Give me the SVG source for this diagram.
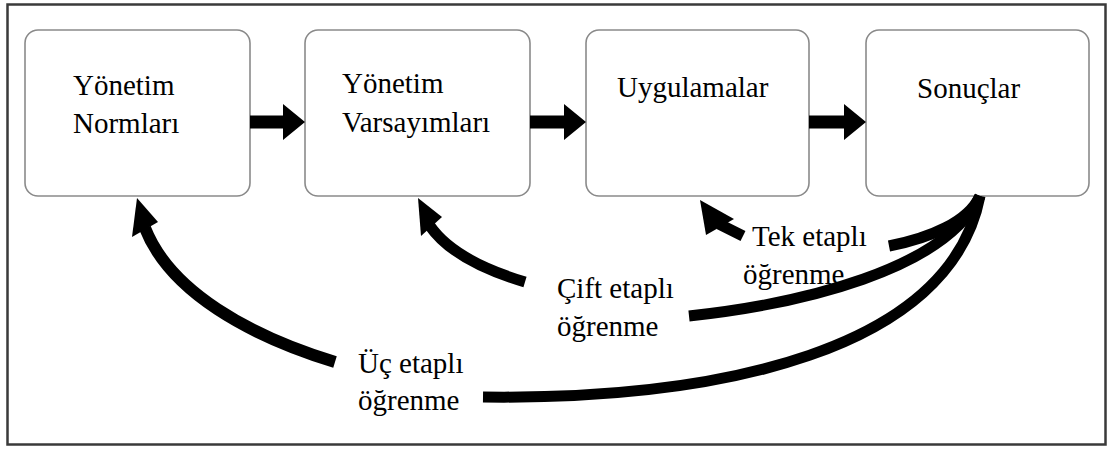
<svg xmlns="http://www.w3.org/2000/svg" width="1110" height="450" viewBox="0 0 1110 450">
<style>
.box{fill:#fff;stroke:#8a8a8a;stroke-width:1.6}
.t{font-family:"Liberation Serif","Times New Roman",serif;font-size:29px;fill:#000}
.c{fill:none;stroke:#000;stroke-linecap:butt}
.h{fill:#000}
</style>
<rect x="0" y="0" width="1110" height="450" fill="#fff"/>
<rect x="7.5" y="4.5" width="1098" height="440" fill="none" stroke="#3a3a3a" stroke-width="2.5"/>
<g id="n1"><rect class="box" x="25" y="30" width="225" height="166" rx="13"/><text class="t" x="73" y="95">Yönetim</text><text class="t" x="73" y="133">Normları</text></g>
<g id="n2"><rect class="box" x="305" y="30" width="225" height="166" rx="13"/><text class="t" x="342" y="93">Yönetim</text><text class="t" x="342" y="132">Varsayımları</text></g>
<g id="n3"><rect class="box" x="586" y="30" width="223" height="166" rx="13"/><text class="t" x="617" y="97">Uygulamalar</text></g>
<g id="n4"><rect class="box" x="866" y="30" width="223" height="166" rx="13"/><text class="t" x="917" y="98">Sonuçlar</text></g>
<g id="labels">
<text class="t" x="752" y="246">Tek etaplı</text><text class="t" x="743" y="284">öğrenme</text>
<text class="t" x="557" y="298">Çift etaplı</text><text class="t" x="557" y="336">öğrenme</text>
<text class="t" x="358" y="373">Üç etaplı</text><text class="t" x="358" y="410">öğrenme</text>
</g>
<g id="connectors">
<polygon class="h" points="250,115.5 283,115.5 283,104 305,122 283,140 283,128.5 250,128.5"/>
<polygon class="h" points="530,115.5 564,115.5 564,104 586,122 564,140 564,128.5 530,128.5"/>
<polygon class="h" points="809,115.5 844,115.5 844,104 866,122 844,140 844,128.5 809,128.5"/>
<path class="c" stroke-width="12" d="M335 362 C250 336 170 292 145 228"/>
<polygon class="h" points="137,198 132,237 158,222"/>
<path class="c" stroke-width="11" d="M525 282 C485 270 448 252 430 226"/>
<polygon class="h" points="418,198 421,236 442,217"/>
<path class="c" stroke-width="11" d="M743 236 L719 224"/>
<polygon class="h" points="700,200 706,235 734,219"/>
<path class="c" stroke-width="11" d="M889 246 C930 238 968 222 980 196"/>
<path class="c" stroke-width="11" d="M689 316 C800 304 945 270 980 196"/>
<path class="c" stroke-width="11" d="M483 397 C720 400 950 350 980 196"/>
</g>
</svg>
